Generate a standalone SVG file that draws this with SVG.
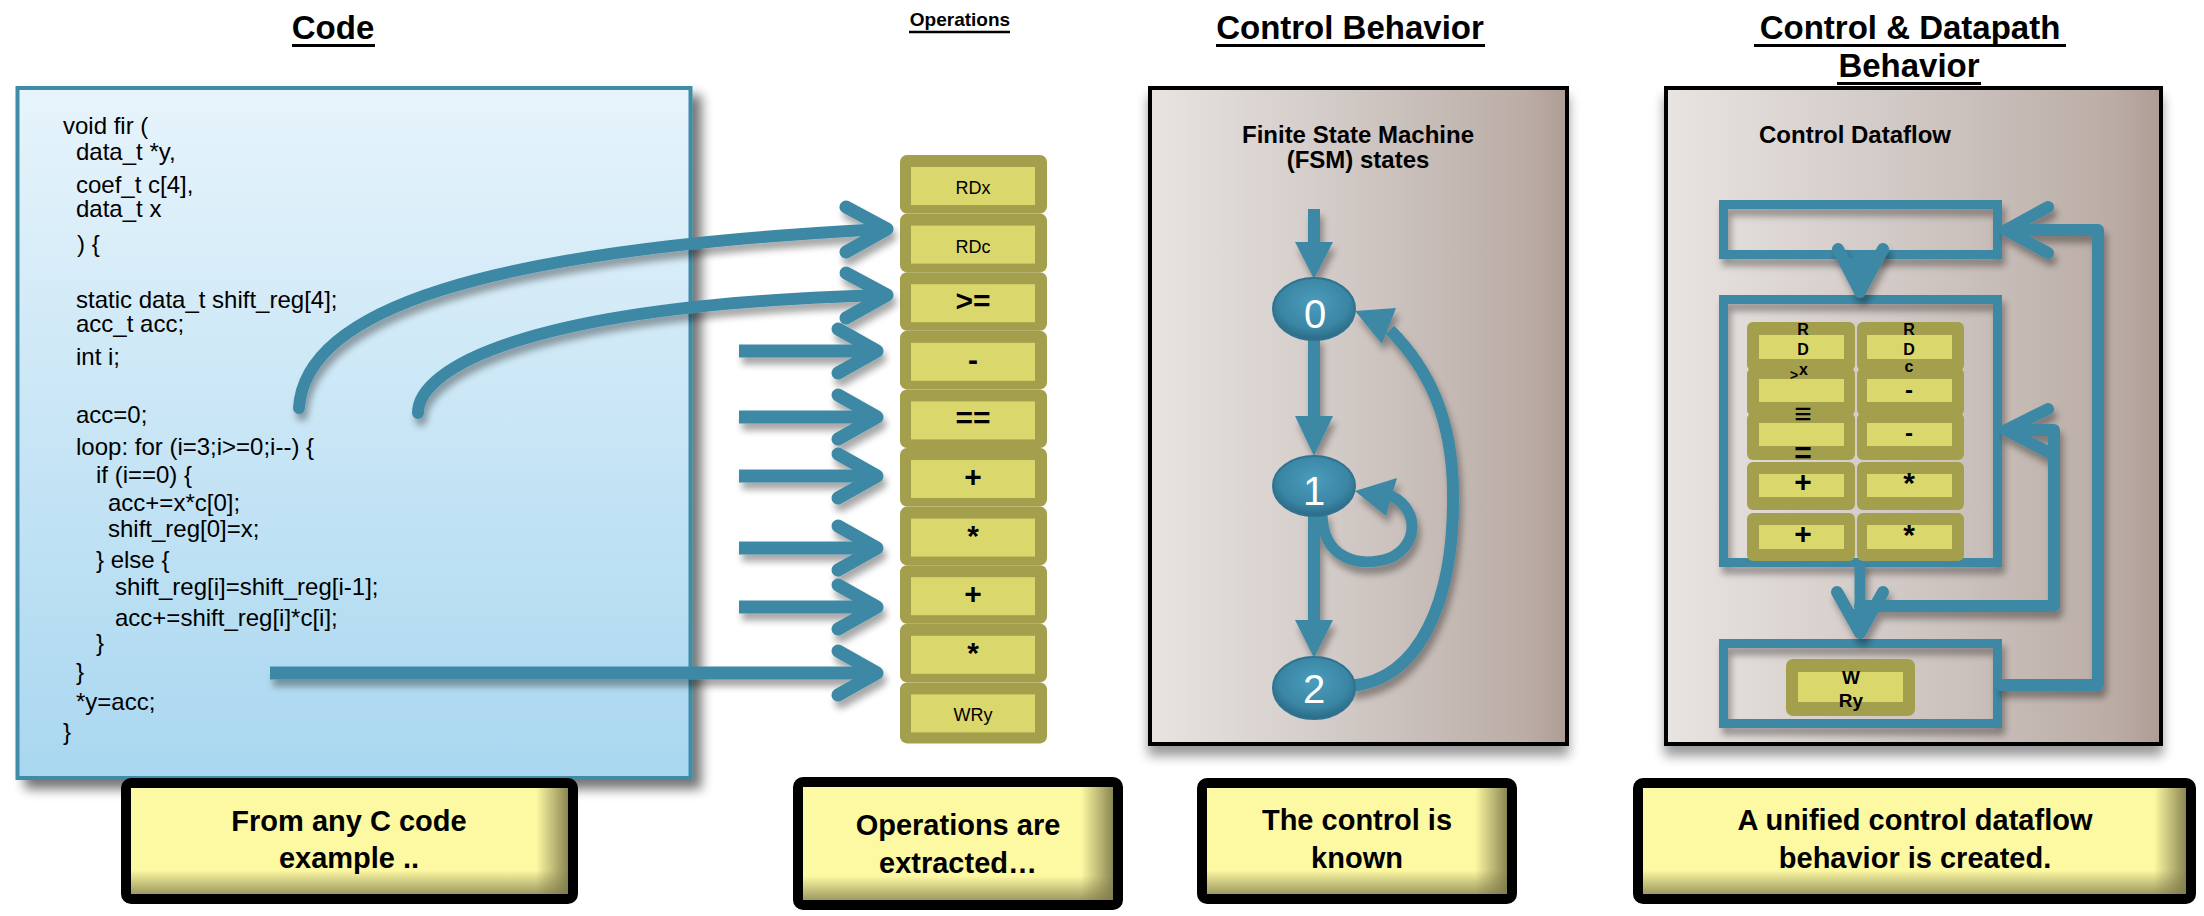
<svg xmlns="http://www.w3.org/2000/svg" width="2204" height="916" viewBox="0 0 2204 916">
<defs>
<style>
text{font-family:"Liberation Sans",Arial,Helvetica,sans-serif;fill:#000}
.title{font-weight:bold;font-size:33px;text-anchor:middle}
.ul{stroke:#000;stroke-width:3}
.code{font-size:24px}
.cap{font-weight:bold;font-size:29px;text-anchor:middle}
.op{font-size:18px;text-anchor:middle}
.sym{font-size:30px;font-weight:bold;text-anchor:middle}
.tb{font-size:16px;font-weight:bold;text-anchor:middle}
.sub{font-size:24px;font-weight:bold;text-anchor:middle}
.olive{fill:#a39f4d}
.cell{fill:#dad86d}
.tl{fill:none;stroke:#3c89a5;stroke-linecap:round;stroke-linejoin:round}
.tlb{fill:none;stroke:#3c89a5;stroke-linecap:butt;stroke-linejoin:round}
.tf{fill:#3c89a5}
.box4{fill:none;stroke:#3c89a5;stroke-width:9}
.capbox{fill:none;stroke:#000;stroke-width:10}
.capfill{fill:#fdf9a3}
.nodetxt{font-size:40px;fill:#fff;text-anchor:middle}
</style>
<linearGradient id="codeG" x1="0" y1="0" x2="0" y2="1">
<stop offset="0" stop-color="#e7f4fb"/><stop offset="1" stop-color="#a9d7f0"/>
</linearGradient>
<linearGradient id="panelG" x1="0" y1="0" x2="1" y2="0">
<stop offset="0" stop-color="#e8e4e2"/><stop offset="0.55" stop-color="#cdc4c0"/><stop offset="0.9" stop-color="#bbada6"/><stop offset="1" stop-color="#ae9d94"/>
</linearGradient>
<linearGradient id="fadeR" x1="0" y1="0" x2="1" y2="0">
<stop offset="0" stop-color="#7e7a4a" stop-opacity="0"/><stop offset="1" stop-color="#7e7a4a" stop-opacity="0.9"/>
</linearGradient>
<linearGradient id="fadeB" x1="0" y1="0" x2="0" y2="1">
<stop offset="0" stop-color="#7e7a4a" stop-opacity="0"/><stop offset="1" stop-color="#7e7a4a" stop-opacity="0.75"/>
</linearGradient>
<radialGradient id="nodeG" cx="50%" cy="40%" r="60%">
<stop offset="0" stop-color="#4b9cbc"/><stop offset="0.7" stop-color="#3a86a4"/><stop offset="1" stop-color="#2b6a86"/>
</radialGradient>
<filter id="shBox" filterUnits="userSpaceOnUse" x="0" y="0" width="2204" height="916">
<feGaussianBlur in="SourceAlpha" stdDeviation="6"/><feOffset dx="9" dy="9"/>
<feComponentTransfer><feFuncA type="linear" slope="0.55"/></feComponentTransfer>
<feMerge><feMergeNode/><feMergeNode in="SourceGraphic"/></feMerge>
</filter>
<filter id="shPanel" filterUnits="userSpaceOnUse" x="0" y="0" width="2204" height="916">
<feGaussianBlur in="SourceAlpha" stdDeviation="6"/><feOffset dx="0" dy="10"/>
<feComponentTransfer><feFuncA type="linear" slope="0.4"/></feComponentTransfer>
<feMerge><feMergeNode/><feMergeNode in="SourceGraphic"/></feMerge>
</filter>
<filter id="shLine" filterUnits="userSpaceOnUse" x="0" y="0" width="2204" height="916">
<feGaussianBlur in="SourceAlpha" stdDeviation="3.5"/><feOffset dx="3" dy="7"/>
<feComponentTransfer><feFuncA type="linear" slope="0.35"/></feComponentTransfer>
<feMerge><feMergeNode/><feMergeNode in="SourceGraphic"/></feMerge>
</filter>
</defs>
<rect x="0" y="0" width="2204" height="916" fill="#fff"/>

<!-- Titles -->
<g id="titles">
<text class="title" x="333" y="39">Code</text>
<line class="ul" x1="292" y1="45.5" x2="375" y2="45.5"/>
<text x="960" y="26" style="font-weight:bold;font-size:19px;text-anchor:middle">Operations</text>
<line x1="909" y1="32" x2="1010" y2="32" stroke="#000" stroke-width="2.5"/>
<text class="title" x="1350" y="39">Control Behavior</text>
<line class="ul" x1="1216" y1="45.5" x2="1485" y2="45.5"/>
<text class="title" x="1910" y="39">Control &amp; Datapath</text>
<line class="ul" x1="1754" y1="45.5" x2="2066" y2="45.5"/>
<text class="title" x="1909" y="77">Behavior</text>
<line class="ul" x1="1837" y1="83.5" x2="1981" y2="83.5"/>
</g>

<!-- Code panel -->
<g id="code-panel">
<rect x="17.5" y="88" width="673" height="690" fill="url(#codeG)" stroke="#3f8ba6" stroke-width="4" filter="url(#shBox)"/>
<text class="code" x="63" y="134">void fir (</text>
<text class="code" x="76" y="160">data_t *y,</text>
<text class="code" x="76" y="193">coef_t c[4],</text>
<text class="code" x="76" y="217">data_t x</text>
<text class="code" x="77" y="252">) {</text>
<text class="code" x="76" y="308">static data_t shift_reg[4];</text>
<text class="code" x="76" y="332">acc_t acc;</text>
<text class="code" x="76" y="365">int i;</text>
<text class="code" x="76" y="423">acc=0;</text>
<text class="code" x="76" y="455">loop: for (i=3;i&gt;=0;i--) {</text>
<text class="code" x="96" y="483">if (i==0) {</text>
<text class="code" x="108" y="511">acc+=x*c[0];</text>
<text class="code" x="108" y="537">shift_reg[0]=x;</text>
<text class="code" x="96" y="568">} else {</text>
<text class="code" x="115" y="595">shift_reg[i]=shift_reg[i-1];</text>
<text class="code" x="115" y="626">acc+=shift_reg[i]*c[i];</text>
<text class="code" x="96" y="651">}</text>
<text class="code" x="76" y="680">}</text>
<text class="code" x="76" y="710">*y=acc;</text>
<text class="code" x="63" y="740">}</text>
</g>

<!-- Operations column -->
<g id="ops-column">
<rect class="olive" x="900" y="155" width="147" height="58.6" rx="7"/>
<rect class="olive" x="900" y="213.6" width="147" height="58.6" rx="7"/>
<rect class="olive" x="900" y="272.2" width="147" height="58.6" rx="7"/>
<rect class="olive" x="900" y="330.8" width="147" height="58.6" rx="7"/>
<rect class="olive" x="900" y="389.4" width="147" height="58.6" rx="7"/>
<rect class="olive" x="900" y="448" width="147" height="58.6" rx="7"/>
<rect class="olive" x="900" y="506.6" width="147" height="58.6" rx="7"/>
<rect class="olive" x="900" y="565.2" width="147" height="58.6" rx="7"/>
<rect class="olive" x="900" y="623.8" width="147" height="58.6" rx="7"/>
<rect class="olive" x="900" y="682.4" width="147" height="61" rx="7"/>
<g id="op-0"><rect class="cell" x="911" y="167" width="124" height="38"/><text class="op" x="973" y="194">RDx</text></g>
<g id="op-1"><rect class="cell" x="911" y="225.6" width="124" height="38"/><text class="op" x="973" y="252.6">RDc</text></g>
<g id="op-2"><rect class="cell" x="911" y="284.2" width="124" height="38"/><text class="sym" x="973" y="311.2">&gt;=</text></g>
<g id="op-3"><rect class="cell" x="911" y="342.8" width="124" height="38"/><text class="sym" x="973" y="369.8">-</text></g>
<g id="op-4"><rect class="cell" x="911" y="401.4" width="124" height="38"/><text class="sym" x="973" y="428.4">==</text></g>
<g id="op-5"><rect class="cell" x="911" y="460" width="124" height="38"/><text class="sym" x="973" y="487">+</text></g>
<g id="op-6"><rect class="cell" x="911" y="518.6" width="124" height="38"/><text class="sym" x="973" y="545.6">*</text></g>
<g id="op-7"><rect class="cell" x="911" y="577.2" width="124" height="38"/><text class="sym" x="973" y="604.2">+</text></g>
<g id="op-8"><rect class="cell" x="911" y="635.8" width="124" height="38"/><text class="sym" x="973" y="662.8">*</text></g>
<g id="op-9"><rect class="cell" x="911" y="694.4" width="124" height="38"/><text class="op" x="973" y="721.4">WRy</text></g>
</g>

<!-- Control behaviour panel -->
<g id="fsm-panel">
<rect x="1150" y="88" width="417" height="656" fill="url(#panelG)" stroke="#000" stroke-width="4" filter="url(#shPanel)"/>
<text class="sub" x="1358" y="143">Finite State Machine</text>
<text class="sub" x="1358" y="168">(FSM) states</text>
</g>

<!-- Control & datapath panel -->
<g id="cdfg-panel">
<rect x="1666" y="88" width="495" height="656" fill="url(#panelG)" stroke="#000" stroke-width="4" filter="url(#shPanel)"/>
<text class="sub" x="1855" y="143">Control Dataflow</text>
</g>

<g id="cdfg-top-block" filter="url(#shLine)">
<rect class="box4" x="1723.5" y="204.5" width="274" height="50"/>
</g>
<g id="cdfg-middle-block">
<rect class="box4" x="1723.5" y="299.5" width="274" height="263" filter="url(#shLine)"/>
<g id="cdfg-table">
<rect class="olive" x="1747" y="322" width="108" height="49" rx="6"/>
<rect class="olive" x="1857" y="322" width="107" height="49" rx="6"/>
<rect class="olive" x="1747" y="368" width="108" height="48" rx="6"/>
<rect class="olive" x="1857" y="368" width="107" height="48" rx="6"/>
<rect class="olive" x="1747" y="413" width="108" height="47" rx="6"/>
<rect class="olive" x="1857" y="413" width="107" height="47" rx="6"/>
<rect class="olive" x="1747" y="462" width="108" height="48" rx="6"/>
<rect class="olive" x="1857" y="462" width="107" height="48" rx="6"/>
<rect class="olive" x="1747" y="513" width="108" height="48" rx="6"/>
<rect class="olive" x="1857" y="513" width="107" height="48" rx="6"/>
<rect class="cell" x="1759" y="335" width="85" height="24"/>
<rect class="cell" x="1867" y="335" width="85" height="24"/>
<rect class="cell" x="1759" y="379" width="85" height="23"/>
<rect class="cell" x="1867" y="379" width="85" height="23"/>
<rect class="cell" x="1759" y="423" width="85" height="23"/>
<rect class="cell" x="1867" y="423" width="85" height="23"/>
<rect class="cell" x="1759" y="474" width="85" height="23"/>
<rect class="cell" x="1867" y="474" width="85" height="23"/>
<rect class="cell" x="1759" y="525" width="85" height="24"/>
<rect class="cell" x="1867" y="525" width="85" height="24"/>
<text class="tb" x="1803" y="335">R</text>
<text class="tb" x="1803" y="355">D</text>
<text class="tb" x="1799" y="375" style="text-anchor:start">x</text>
<text class="tb" x="1790" y="380" style="text-anchor:start;font-size:14px">&gt;</text>
<text class="sym" x="1803" y="424">≡</text>
<text class="sym" x="1803" y="463">=</text>
<text class="tb" x="1909" y="335">R</text>
<text class="tb" x="1909" y="355">D</text>
<text class="tb" x="1909" y="372">c</text>
<text class="sym" x="1909" y="398" style="font-size:24px">-</text>
<text class="sym" x="1909" y="441" style="font-size:24px">-</text>
<text class="sym" x="1803" y="492">+</text>
<text class="sym" x="1909" y="493">*</text>
<text class="sym" x="1803" y="544">+</text>
<text class="sym" x="1909" y="545">*</text>
</g>
</g>
<g id="cdfg-bottom-block">
<rect class="box4" x="1723.5" y="643.5" width="274" height="80" filter="url(#shLine)"/>
<rect class="olive" x="1786" y="659" width="129" height="57" rx="7"/>
<rect class="cell" x="1798" y="672" width="105" height="30"/>
<text class="tb" x="1851" y="684" style="font-size:19px">W</text>
<text class="tb" x="1851" y="707" style="font-size:19px">Ry</text>
</g>

<!-- Connectors -->
<g id="connectors" filter="url(#shLine)">
<path class="tl" stroke-width="12" d="M299,408 C305,310 480,250 884,229"/>
<path class="tl" stroke-width="13" d="M846,207 L887,229 L846,252"/>
<path class="tl" stroke-width="12" d="M418,413 C418,370 520,305 884,295"/>
<path class="tl" stroke-width="13" d="M846,273 L887,295 L846,318"/>
<path class="tlb" stroke-width="13" d="M739,351 L874,351"/>
<path class="tl" stroke-width="13" d="M838,329 L877,351 L838,373"/>
<path class="tlb" stroke-width="13" d="M739,417 L874,417"/>
<path class="tl" stroke-width="13" d="M838,395 L877,417 L838,439"/>
<path class="tlb" stroke-width="13" d="M739,476 L874,476"/>
<path class="tl" stroke-width="13" d="M838,454 L877,476 L838,498"/>
<path class="tlb" stroke-width="13" d="M739,548 L874,548"/>
<path class="tl" stroke-width="13" d="M838,526 L877,548 L838,570"/>
<path class="tlb" stroke-width="13" d="M739,607 L874,607"/>
<path class="tl" stroke-width="13" d="M838,585 L877,607 L838,629"/>
<path class="tlb" stroke-width="13" d="M270,673 L874,673"/>
<path class="tl" stroke-width="13" d="M838,651 L877,673 L838,695"/>
<path class="tlb" stroke-width="12" d="M1314,209 L1314,246"/>
<polygon class="tf" points="1295,242 1333,242 1314,279"/>
<path class="tlb" stroke-width="12" d="M1314,336 L1314,420"/>
<polygon class="tf" points="1295,416 1333,416 1314,456"/>
<path class="tlb" stroke-width="12" d="M1314,512 L1314,624"/>
<polygon class="tf" points="1295,620 1333,620 1314,658"/>
<path class="tlb" stroke-width="12" d="M1350,686 C1420,680 1455,600 1453,490 C1452,420 1430,370 1390,330"/>
<polygon class="tf" points="1355,311 1396,308 1382,344"/>
<path class="tlb" stroke-width="11" d="M1322,512 C1322,560 1360,568 1390,558 C1420,545 1420,505 1386,494"/>
<polygon class="tf" points="1355,491 1397,478 1386,516"/>
<path class="tl" stroke-width="12" d="M1838,249 L1860,292 L1883,249"/>
<polygon class="tf" points="1840,258 1880,258 1860,298"/>
<path class="tlb" stroke-width="11" d="M1860,562 L1860,612"/>
<path class="tl" stroke-width="12" d="M1837,592 L1860,633 L1883,592"/>
<polygon class="tf" points="1843,609 1877,609 1860,639"/>
<path class="tl" stroke-width="12" d="M1860,606 L2054,606 L2054,430 L2006,430"/>
<path class="tl" stroke-width="12" d="M2048,409 L2006,430 L2048,452"/>
<path class="tl" stroke-width="12" d="M2002,685 L2098,685 L2098,230 L2006,230"/>
<path class="tl" stroke-width="12" d="M2048,207 L2006,230 L2048,253"/>
</g>

<!-- FSM states -->
<g id="state-0">
<ellipse cx="1314" cy="309" rx="41" ry="31" fill="url(#nodeG)" stroke="#2f7390" stroke-width="2"/>
<text class="nodetxt" x="1315" y="328">0</text>
</g>
<g id="state-1">
<ellipse cx="1314" cy="486" rx="41" ry="30" fill="url(#nodeG)" stroke="#2f7390" stroke-width="2"/>
<text class="nodetxt" x="1314" y="505">1</text>
</g>
<g id="state-2">
<ellipse cx="1314" cy="688" rx="41" ry="31" fill="url(#nodeG)" stroke="#2f7390" stroke-width="2"/>
<text class="nodetxt" x="1314" y="703">2</text>
</g>

<!-- Captions -->
<g id="caption-1">
<rect class="capfill" x="126" y="783" width="447" height="116"/>
<rect fill="url(#fadeR)" x="536" y="788" width="32" height="106"/>
<rect fill="url(#fadeB)" x="131" y="870" width="437" height="24"/>
<rect class="capbox" x="126" y="783" width="447" height="116" rx="5"/>
<text class="cap" x="349" y="831">From any C code</text>
<text class="cap" x="349" y="868">example ..</text>
</g>
<g id="caption-2">
<rect class="capfill" x="798" y="782" width="320" height="123"/>
<rect fill="url(#fadeR)" x="1081" y="787" width="32" height="113"/>
<rect fill="url(#fadeB)" x="803" y="876" width="310" height="24"/>
<rect class="capbox" x="798" y="782" width="320" height="123" rx="5"/>
<text class="cap" x="958" y="835">Operations are</text>
<text class="cap" x="958" y="873">extracted…</text>
</g>
<g id="caption-3">
<rect class="capfill" x="1202" y="783" width="310" height="116"/>
<rect fill="url(#fadeR)" x="1475" y="788" width="32" height="106"/>
<rect fill="url(#fadeB)" x="1207" y="870" width="300" height="24"/>
<rect class="capbox" x="1202" y="783" width="310" height="116" rx="5"/>
<text class="cap" x="1357" y="830">The control is</text>
<text class="cap" x="1357" y="868">known</text>
</g>
<g id="caption-4">
<rect class="capfill" x="1638" y="783" width="553" height="116"/>
<rect fill="url(#fadeR)" x="2154" y="788" width="32" height="106"/>
<rect fill="url(#fadeB)" x="1643" y="870" width="543" height="24"/>
<rect class="capbox" x="1638" y="783" width="553" height="116" rx="5"/>
<text class="cap" x="1915" y="830">A unified control dataflow</text>
<text class="cap" x="1915" y="868">behavior is created.</text>
</g>
</svg>
